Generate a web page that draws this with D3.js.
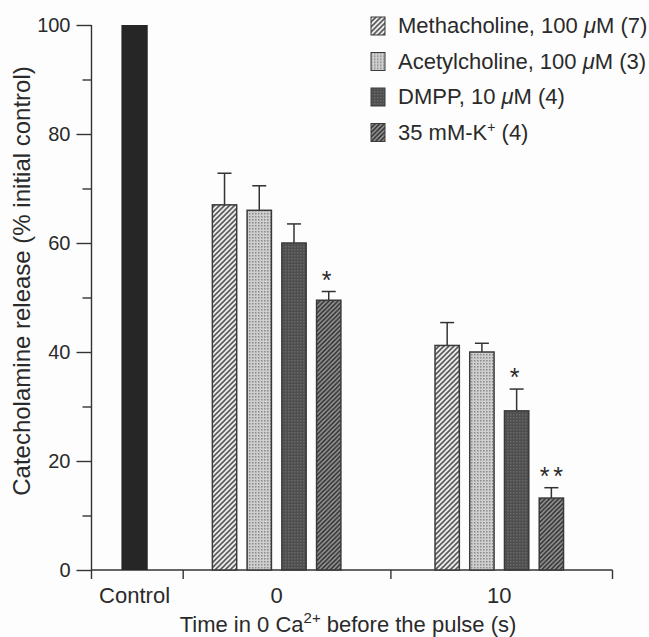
<!DOCTYPE html>
<html>
<head>
    <title>Catecholamine release</title>
    <script src="https://d3js.org/d3.v7.min.js"></script>
    <style>
        body { margin: 0; background: #fdfdfd; }
        text { font-family: "Liberation Sans", Arial, Helvetica, sans-serif; fill: #2a2a2a; }
    </style>
</head>
<body>
    <div id="chart"></div>

    <script>
        // data
        var groups = ["0", "10"];
        var series = ["Methacholine, 100 \u03bcM (7)", "Acetylcholine, 100 \u03bcM (3)", "DMPP, 10 \u03bcM (4)", "35  mM-K+ (4)"];
        var controlValue = 100;
        var values = [
            [67, 66, 60, 49.5],     // 0 s
            [41.2, 40, 29.2, 13.2]  // 10 s
        ];
        var errors = [
            [5.8, 4.5, 3.5, 1.6],
            [4.2, 1.6, 4.0, 1.9]
        ];
        var stars = [
            ["", "", "", "*"],
            ["", "", "*", "**"]
        ];
        var majorTicks = [0, 20, 40, 60, 80, 100];
        var minorTicks = [10, 30, 50, 70, 90];

        var width = 649, height = 637;

        var svg = d3.select("#chart")
            .append("svg")
            .attr("width", width)
            .attr("height", height);

        // patterns for the fills
        var defs = svg.append("defs");

        function hatch(id, bg, fg, size, sw) {
            var p = defs.append("pattern")
                .attr("id", id)
                .attr("patternUnits", "userSpaceOnUse")
                .attr("width", size).attr("height", size);
            p.append("rect").attr("width", size).attr("height", size).attr("fill", bg);
            p.append("path")
                .attr("d", "M0," + size + "L" + size + ",0M-1,1L1,-1M" + (size - 1) + "," + (size + 1) + "L" + (size + 1) + "," + (size - 1))
                .attr("stroke", fg).attr("stroke-width", sw);
        }
        hatch("meth", "#ececec", "#5a5a5a", 5, 1.6);
        hatch("kplus", "#9a9a9a", "#303030", 4.5, 1.6);

        var dots = defs.append("pattern")
            .attr("id", "ach")
            .attr("patternUnits", "userSpaceOnUse")
            .attr("width", 3).attr("height", 3);
        dots.append("rect").attr("width", 3).attr("height", 3).attr("fill", "#cfcfcf");
        dots.append("rect").attr("width", 1.5).attr("height", 1.5).attr("fill", "#8a8a8a");

        var dm = defs.append("pattern")
            .attr("id", "dmpp")
            .attr("patternUnits", "userSpaceOnUse")
            .attr("width", 3).attr("height", 3);
        dm.append("rect").attr("width", 3).attr("height", 3).attr("fill", "#4e4e4e");
        dm.append("rect").attr("width", 1.5).attr("height", 1.5).attr("fill", "#6a6a6a");

        var fills = ["url(#meth)", "url(#ach)", "url(#dmpp)", "url(#kplus)"];

        // scales
        var y = d3.scaleLinear().domain([0, 100]).range([570, 25]);
        var x = d3.scaleLinear().domain([0, 15]).range([91.5, 612.5]);

        var controlPos = 1.24;
        var groupCenter = d3.scaleOrdinal().domain(groups).range([5.33, 11.74]);
        var offset = d3.scalePoint().domain(series).range([-1.5, 1.5]);
        var barW = x(0.7) - x(0);

        // y axis
        var yAxis = svg.append("g")
            .attr("transform", "translate(" + x(0) + ",0)")
            .call(d3.axisLeft(y)
                .tickValues(majorTicks)
                .tickSize(15)
                .tickPadding(6));
        yAxis.select(".domain").remove();
        yAxis.selectAll("line").attr("stroke", "#333").attr("stroke-width", 1.4);
        yAxis.selectAll("text").style("font-size", "20px").attr("fill", "#2a2a2a");

        var yMinor = svg.append("g")
            .attr("transform", "translate(" + x(0) + ",0)")
            .call(d3.axisLeft(y).tickValues(minorTicks).tickSize(9).tickFormat(""));
        yMinor.select(".domain").remove();
        yMinor.selectAll("line").attr("stroke", "#333").attr("stroke-width", 1.4);

        svg.append("line")
            .attr("x1", x(0)).attr("x2", x(0))
            .attr("y1", y(100)).attr("y2", y(0) + 9)
            .attr("stroke", "#333").attr("stroke-width", 1.4);

        // x axis
        svg.append("line")
            .attr("x1", x(0)).attr("x2", x(15))
            .attr("y1", y(0)).attr("y2", y(0))
            .attr("stroke", "#333").attr("stroke-width", 1.4);

        svg.selectAll(".xtick")
            .data([2.64, 8.62, 15])
            .enter().append("line")
            .attr("x1", function(d) { return x(d); })
            .attr("x2", function(d) { return x(d); })
            .attr("y1", y(0)).attr("y2", y(0) + 9)
            .attr("stroke", "#333").attr("stroke-width", 1.4);

        svg.append("text")
            .attr("x", x(controlPos)).attr("y", y(0) + 33)
            .attr("text-anchor", "middle")
            .style("font-size", "22px")
            .text("Control");

        svg.selectAll(".glabel")
            .data(groups)
            .enter().append("text")
            .attr("x", function(d) { return x(groupCenter(d)); })
            .attr("y", y(0) + 33)
            .attr("text-anchor", "middle")
            .style("font-size", "22px")
            .text(function(d) { return d; });

        var xTitle = svg.append("text")
            .attr("x", 348).attr("y", 632)
            .attr("text-anchor", "middle")
            .style("font-size", "22px");
        xTitle.append("tspan").text("Time in 0 Ca");
        xTitle.append("tspan").attr("dy", -9).style("font-size", "15px").text("2+");
        xTitle.append("tspan").attr("dy", 9).text(" before the pulse (s)");

        svg.append("text")
            .attr("transform", "translate(30," + 281 + ") rotate(-90)")
            .attr("text-anchor", "middle")
            .style("font-size", "24px")
            .text("Catecholamine release (% initial control)");

        // control bar
        svg.append("rect")
            .attr("x", x(controlPos) - (barW + 2) / 2)
            .attr("y", y(controlValue))
            .attr("width", barW + 2)
            .attr("height", y(0) - y(controlValue))
            .attr("fill", "#262626");

        // grouped bars
        groups.forEach(function(g, gi) {
            var gEl = svg.append("g");
            series.forEach(function(s, si) {
                var cx = x(groupCenter(g) + offset(s));
                var v = values[gi][si];
                var e = errors[gi][si];

                gEl.append("line")
                    .attr("x1", cx).attr("x2", cx)
                    .attr("y1", y(v)).attr("y2", y(v + e))
                    .attr("stroke", "#333").attr("stroke-width", 1.5);
                gEl.append("line")
                    .attr("x1", cx - 7).attr("x2", cx + 7)
                    .attr("y1", y(v + e)).attr("y2", y(v + e))
                    .attr("stroke", "#333").attr("stroke-width", 1.5);

                gEl.append("rect")
                    .attr("x", cx - barW / 2)
                    .attr("y", y(v))
                    .attr("width", barW)
                    .attr("height", y(0) - y(v))
                    .attr("fill", fills[si])
                    .attr("stroke", "#3a3a3a")
                    .attr("stroke-width", 1.5);

                if (stars[gi][si]) {
                    gEl.append("text")
                        .attr("x", cx + (stars[gi][si].length > 1 ? 2 : 0))
                        .attr("y", y(v + e) - 3)
                        .attr("text-anchor", "middle")
                        .style("font-size", "25px")
                        .style("letter-spacing", "4px")
                        .text(stars[gi][si]);
                }
            });
        });

        // legend
        var legend = svg.selectAll(".legend")
            .data(series)
            .enter().append("g")
            .attr("transform", function(d, i) { return "translate(371," + (17 + i * 35.5) + ")"; });

        legend.append("rect")
            .attr("width", 14).attr("height", 18)
            .attr("fill", function(d, i) { return fills[i]; })
            .attr("stroke", "#3a3a3a")
            .attr("stroke-width", 1);

        legend.append("text")
            .attr("x", 27).attr("y", 16)
            .style("font-size", "22px")
            .each(function(d) {
                var t = d3.select(this);
                if (d.indexOf("K+") >= 0) {
                    t.append("tspan").text("35  mM-K");
                    t.append("tspan").attr("dy", -8).style("font-size", "14px").text("+");
                    t.append("tspan").attr("dy", 8).text(" (4)");
                } else {
                    var parts = d.split("\u03bc");
                    t.append("tspan").text(parts[0]);
                    t.append("tspan").style("font-style", "italic").text("\u03bc");
                    t.append("tspan").text(parts[1]);
                }
            });
    </script>
</body>
</html>
